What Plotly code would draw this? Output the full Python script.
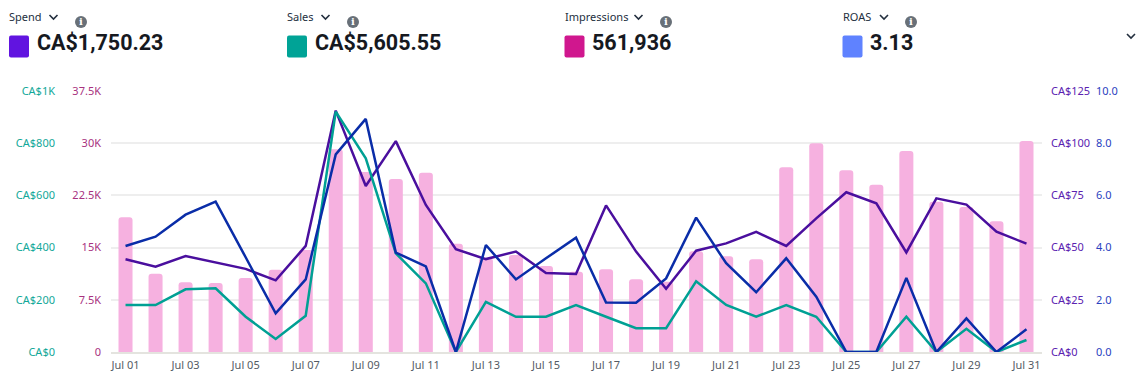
import plotly.graph_objects as go

W, H = 1145, 381
days = [f"Jul {d:02d}" for d in range(1, 32)]
impressions = [19350, 11255, 10010, 9914, 10632, 11830, 14655, 29119, 25862, 24856, 25766, 15565,
               13458, 13937, 12356, 11542, 11877, 10441, 10100, 14464, 13745, 13314, 26533, 29981,
               26102, 24042, 28879, 21600, 20833, 18774, 30316]
spend = [44.4, 40.9, 46.0, 42.8, 39.8, 34.3, 50.8, 115.6, 79.5, 101.0, 70.4, 49.2, 44.5, 48.1, 37.8, 37.4,
         70.2, 48.1, 30.3, 48.5, 52.0, 57.5, 50.8, 64.0, 76.5, 71.2, 47.7, 73.6, 70.6, 57.6, 51.9]
sales = [180, 180, 240, 244, 135, 50, 139, 921, 742, 378, 263, 0, 192, 135, 135, 180, 135, 91, 91, 271,
         180, 135, 180, 135, 0, 0, 135, 0, 89, 0, 46]
roas = [4.06, 4.42, 5.26, 5.76, 3.63, 1.48, 2.78, 7.57, 8.93, 3.81, 3.28, 0, 4.10, 2.78, 3.59, 4.38, 1.90,
        1.89, 2.82, 5.15, 3.40, 2.29, 3.59, 2.12, 0, 0, 2.84, 0, 1.29, 0, 0.87]

imp_ticks = [0, 7500, 15000, 22500, 30000, 37500]
imp_labels = ["0", "7.5K", "15K", "22.5K", "30K", "37.5K"]
sales_ticks = [0, 200, 400, 600, 800, 1000]
sales_labels = ["CA$0", "CA$200", "CA$400", "CA$600", "CA$800", "CA$1K"]
spend_ticks = [0, 25, 50, 75, 100, 125]
spend_labels = ["CA$0", "CA$25", "CA$50", "CA$75", "CA$100", "CA$125"]
roas_ticks = [0, 2, 4, 6, 8, 10]
roas_labels = ["0.0", "2.0", "4.0", "6.0", "8.0", "10.0"]

metrics = ["Spend", "Sales", "Impressions", "ROAS"]
totals = ["CA$1,750.23", "CA$5,605.55", "561,936", "3.13"]
swatches = ["#6114E0", "#00A396", "#D0178E", "#5F82FF"]
header_x = [9, 287, 564.5, 842.5]
chevron_x = [53.5, 325.5, 638.5, 884]
info_x = [81, 353, 666, 911]

FONT = "Noto Sans"
px = lambda x: x / W
py = lambda y: 1 - y / H
dom_y = [py(352), py(91)]

fig = go.Figure()
fig.add_bar(x=days, y=impressions, marker_color="#F6B1E0", marker_line_width=0, yaxis="y", showlegend=False)
line_sets = [(spend, "#4A0F9E", "y2"), (sales, "#00A094", "y3"), (roas, "#0A2DA8", "y4")]
for vals, col, ax in line_sets:
    fig.add_scatter(x=days, y=vals, mode="lines", line=dict(color=col, width=2.5), yaxis=ax,
                    cliponaxis=False, showlegend=False)


def yax(ticks, labels, color, pos, side, **kw):
    d = dict(range=[0, ticks[-1]], tickmode="array", tickvals=ticks, ticktext=labels, side=side,
             tickfont=dict(family=FONT, size=11, color=color), showline=False, zeroline=False,
             ticks="", domain=dom_y, anchor="free", position=px(pos), showgrid=False, automargin=False)
    d.update(kw)
    return d


def rounded(x0, y0, x1, y1, r):
    a, b = x0, x1
    return (f"M {px(a+r)} {py(y0)} L {px(b-r)} {py(y0)} Q {px(b)} {py(y0)} {px(b)} {py(y0+r)} "
            f"L {px(b)} {py(y1-r)} Q {px(b)} {py(y1)} {px(b-r)} {py(y1)} L {px(a+r)} {py(y1)} "
            f"Q {px(a)} {py(y1)} {px(a)} {py(y1-r)} L {px(a)} {py(y0+r)} Q {px(a)} {py(y0)} {px(a+r)} {py(y0)} Z")


shapes, notes = [], []
for i, m in enumerate(metrics):
    x = header_x[i]
    notes.append(dict(x=px(x - 2), y=py(17), text=m, showarrow=False, xanchor="left", yanchor="middle",
                      xref="paper", yref="paper", font=dict(family=FONT, size=11, color="#232F3E")))
    notes.append(dict(x=px(x + 25.5), y=py(43), text=f"<b>{totals[i]}</b>", showarrow=False, xanchor="left",
                      yanchor="middle", xref="paper", yref="paper",
                      font=dict(family="Roboto", size=21.5, color="#16191F")))
    shapes.append(dict(type="path", xref="paper", yref="paper", path=rounded(x, 35.5, x + 20, 57.5, 2),
                       fillcolor=swatches[i], line=dict(width=0)))
    cx = chevron_x[i]
    shapes.append(dict(type="path", xref="paper", yref="paper", line=dict(color="#232F3E", width=1.6),
                       path=f"M {px(cx-4)} {py(15)} L {px(cx)} {py(19)} L {px(cx+4)} {py(15)}"))
    ix = info_x[i]
    shapes.append(dict(type="circle", xref="paper", yref="paper", x0=px(ix - 6), x1=px(ix + 6), y0=py(28),
                       y1=py(16), fillcolor="#687078", line=dict(width=0)))
    notes.append(dict(x=px(ix), y=py(22), text="<b>i</b>", showarrow=False, xref="paper", yref="paper",
                      xanchor="center", yanchor="middle", font=dict(family="DejaVu Serif", size=10, color="white")))

shapes.append(dict(type="path", xref="paper", yref="paper", line=dict(color="#232F3E", width=1.6),
                   path=f"M {px(1127)} {py(34)} L {px(1131)} {py(38)} L {px(1135)} {py(34)}"))

fig.update_layout(
    width=W, height=H, margin=dict(l=0, r=0, t=0, b=0), paper_bgcolor="white", plot_bgcolor="white",
    bargap=0.533, barcornerradius=3, showlegend=False, shapes=shapes, annotations=notes,
    xaxis=dict(domain=[px(110.5), px(1041.5)], type="category", tickmode="array", tickvals=days[::2],
               tickfont=dict(family=FONT, size=11, color="#545B64"), showline=True, linecolor="#E4E4DF",
               linewidth=1.5, ticks="outside", ticklen=2, tickcolor="rgba(0,0,0,0)", showgrid=False,
               anchor="y", automargin=False),
    yaxis=yax(imp_ticks, imp_labels, "#A8327F", 101, "left", showgrid=True, gridcolor="#EEEEEE", gridwidth=1.5),
    yaxis2=yax(spend_ticks, spend_labels, "#5A22B0", 1050, "right", overlaying="y"),
    yaxis3=yax(sales_ticks, sales_labels, "#12A899", 55, "left", overlaying="y"),
    yaxis4=yax(roas_ticks, roas_labels, "#2A3FC0", 1095, "right", overlaying="y"),
)
fig.write_html("out.html", config=dict(displayModeBar=False), post_script="document.body.style.margin='0';")
